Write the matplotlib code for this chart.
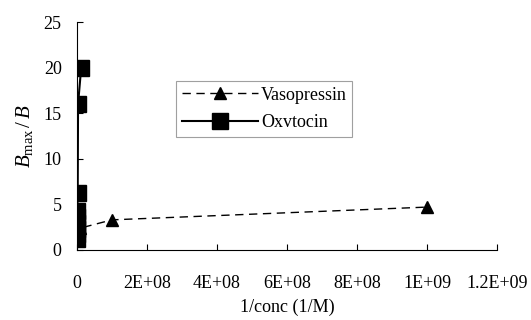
import matplotlib.pyplot as plt

plt.rcParams['font.family'] = ['Liberation Serif', 'DejaVu Serif']
plt.rcParams['mathtext.fontset'] = 'custom'
plt.rcParams['mathtext.it'] = 'Liberation Serif:italic'
plt.rcParams['mathtext.rm'] = 'Liberation Serif'

# vasopressin data
vaso_x = [1e5, 1e6, 1e7, 1e8, 1e9]
vaso_y = [1.3, 1.8, 2.4, 3.3, 4.7]

# oxytocin data
oxy_x = [1e5, 2e5, 3e5, 5e5, 7e5, 1e6, 2e6, 3e6, 1.2e7]
oxy_y = [1.2, 1.7, 2.3, 2.9, 3.6, 4.3, 6.3, 16.0, 20.0]

xticks = [0, 2e8, 4e8, 6e8, 8e8, 1e9, 1.2e9]
xlabels = ['0', '2E+08', '4E+08', '6E+08', '8E+08', '1E+09', '1.2E+09']
yticks = [0, 5, 10, 15, 20, 25]

fig = plt.figure(figsize=(5.31, 3.2), dpi=100)
ax = fig.add_axes([0.145, 0.219, 0.791, 0.712])

ax.plot(vaso_x, vaso_y, color='black', linestyle=(0, (6, 4)), linewidth=1,
        marker='^', markersize=8, label='Vasopressin')
ax.plot(oxy_x, oxy_y, color='black', linestyle='-', linewidth=1.5,
        marker='s', markersize=12, label='Oxvtocin')

ax.set_xlim(0, 1.2e9)
ax.set_ylim(0, 25)
ax.set_xticks(xticks)
ax.set_xticklabels(xlabels)
ax.set_yticks(yticks)
ax.tick_params(direction='in', labelsize=13, length=4, width=0.8)
ax.tick_params(axis='x', pad=18)
ax.tick_params(axis='y', pad=11)
for s in ['top', 'right']:
    ax.spines[s].set_visible(False)

ax.set_xlabel('1/conc (1/M)', fontsize=13, labelpad=5)
ax.set_ylabel(r'$B_{\rm max}\,/\,B$', fontsize=15, labelpad=6)

leg = ax.legend(loc='upper left', bbox_to_anchor=(0.215, 0.78), fontsize=13,
                frameon=True, fancybox=False, handlelength=4.2,
                borderpad=0.3, labelspacing=0.6, handletextpad=0.2)
leg.get_frame().set_edgecolor('#888888')
leg.get_frame().set_linewidth(0.8)

fig.savefig('out.png', dpi=100)
